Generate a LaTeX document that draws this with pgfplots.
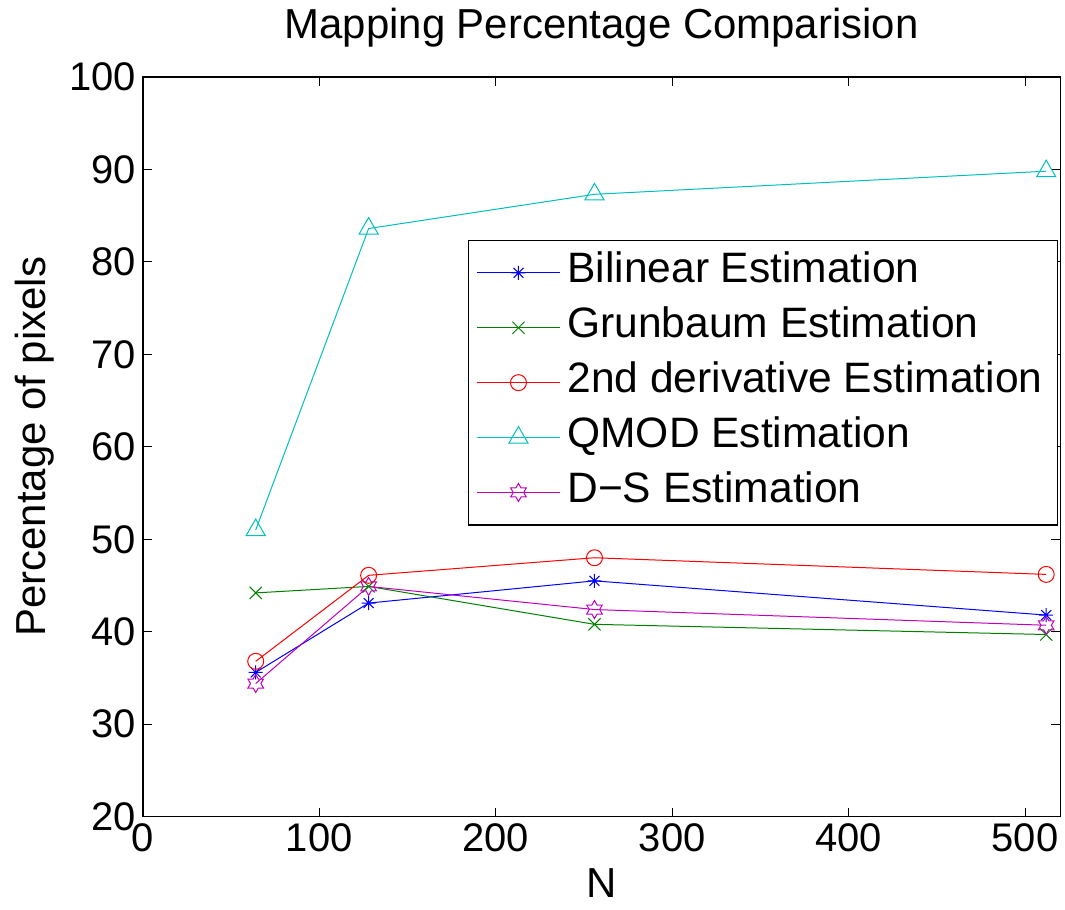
\documentclass[border=0pt]{standalone}
\usepackage{pgfplots}
\pgfplotsset{compat=1.18}
\usepackage{fontspec}
\setmainfont{Liberation Sans}

\definecolor{mblue}{rgb}{0,0,1}
\definecolor{mgreen}{rgb}{0,0.5,0}
\definecolor{mred}{rgb}{1,0,0}
\definecolor{mcyan}{rgb}{0,0.75,0.75}
\definecolor{mmag}{rgb}{0.75,0,0.75}

\pgfdeclareplotmark{mast}{%
 \pgfpathmoveto{\pgfqpoint{0pt}{\pgfplotmarksize}}\pgfpathlineto{\pgfqpoint{0pt}{-\pgfplotmarksize}}%
 \pgfpathmoveto{\pgfqpoint{\pgfplotmarksize}{0pt}}\pgfpathlineto{\pgfqpoint{-\pgfplotmarksize}{0pt}}%
 \pgfpathmoveto{\pgfqpoint{0.707\pgfplotmarksize}{0.707\pgfplotmarksize}}\pgfpathlineto{\pgfqpoint{-0.707\pgfplotmarksize}{-0.707\pgfplotmarksize}}%
 \pgfpathmoveto{\pgfqpoint{-0.707\pgfplotmarksize}{0.707\pgfplotmarksize}}\pgfpathlineto{\pgfqpoint{0.707\pgfplotmarksize}{-0.707\pgfplotmarksize}}%
 \pgfusepathqstroke}
\pgfdeclareplotmark{hexa}{%
 \pgfpathmoveto{\pgfqpointpolar{90}{\pgfplotmarksize}}%
 \pgfpathlineto{\pgfqpointpolar{120}{0.577\pgfplotmarksize}}%
 \pgfpathlineto{\pgfqpointpolar{150}{\pgfplotmarksize}}%
 \pgfpathlineto{\pgfqpointpolar{180}{0.577\pgfplotmarksize}}%
 \pgfpathlineto{\pgfqpointpolar{210}{\pgfplotmarksize}}%
 \pgfpathlineto{\pgfqpointpolar{240}{0.577\pgfplotmarksize}}%
 \pgfpathlineto{\pgfqpointpolar{270}{\pgfplotmarksize}}%
 \pgfpathlineto{\pgfqpointpolar{300}{0.577\pgfplotmarksize}}%
 \pgfpathlineto{\pgfqpointpolar{330}{\pgfplotmarksize}}%
 \pgfpathlineto{\pgfqpointpolar{0}{0.577\pgfplotmarksize}}%
 \pgfpathlineto{\pgfqpointpolar{30}{\pgfplotmarksize}}%
 \pgfpathlineto{\pgfqpointpolar{60}{0.577\pgfplotmarksize}}%
 \pgfpathclose\pgfusepathqstroke}

\begin{document}
\begin{tikzpicture}
\begin{axis}[
 scale only axis, width=459.5pt, height=370.5pt,
 xmin=0, xmax=520, ymin=20, ymax=100,
 xtick={0,100,...,500}, ytick={20,30,...,100},
 tick align=inside, major tick length=4.5pt,
 xtick pos=both, ytick pos=both,
 axis line style={line width=0.75pt},
 every tick/.style={black, line width=0.5pt},
 tick label style={font=\fontsize{20}{24}\selectfont},
 /pgf/number format/assume math mode=true,
 title={Mapping Percentage Comparision},
 title style={font=\fontsize{21}{25}\selectfont, inner sep=0pt, at={(axis description cs:0.5,1.050)}, anchor=center},
 xlabel={N},
 xlabel style={font=\fontsize{21}{25}\selectfont, inner sep=0pt, at={(axis description cs:0.5,-0.0904)}, anchor=center},
 ylabel={Percentage of pixels},
 ylabel style={font=\fontsize{21}{25}\selectfont, inner sep=0pt, at={(axis description cs:-0.1175,0.5)}, anchor=center},
 legend cell align=left,
 legend style={at={(axis description cs:0.9978,0.780)}, anchor=north east,
   font=\fontsize{21.3}{25}\selectfont, draw=black, line width=0.75pt,
   inner xsep=4pt, inner ysep=2.5pt, row sep=0pt,
   nodes={text height=15pt, text depth=5pt, inner ysep=3.75pt, inner xsep=3.5pt}},
 legend image code/.code={\draw[mark repeat=2, mark phase=2, line width=0.5pt] plot coordinates {(0pt,0pt) (20.75pt,0pt) (41.5pt,0pt)};},
 every axis plot/.append style={line width=0.5pt},
]
\addplot[mblue, mark=mast, mark size=3.5pt] coordinates {(64,35.6) (128,43.1) (256,45.5) (512,41.8)};
\addlegendentry{Bilinear Estimation}
\addplot[mgreen, mark=x, mark size=4.3pt] coordinates {(64,44.2) (128,44.9) (256,40.8) (512,39.7)};
\addlegendentry{Grunbaum Estimation}
\addplot[mred, mark=o, mark size=4pt] coordinates {(64,36.8) (128,46.1) (256,48.0) (512,46.2)};
\addlegendentry{2nd derivative Estimation}
\addplot[mcyan, mark=triangle, mark size=5.5pt] coordinates {(64,51.0) (128,83.6) (256,87.3) (512,89.8)};
\addlegendentry{QMOD Estimation}
\addplot[mmag, mark=hexa, mark size=4.5pt] coordinates {(64,34.4) (128,44.9) (256,42.4) (512,40.7)};
\addlegendentry{D−S Estimation\hspace*{4pt}}
\coordinate (ll) at (rel axis cs:0,0);
\coordinate (ur) at (rel axis cs:1,1);
\end{axis}
\path (ll) ++(-71.5pt,-46.5pt) coordinate (a);
\path (ur) ++(1.5pt,38.5pt) coordinate (b);
\path (a) rectangle (b);
\end{tikzpicture}
\end{document}
